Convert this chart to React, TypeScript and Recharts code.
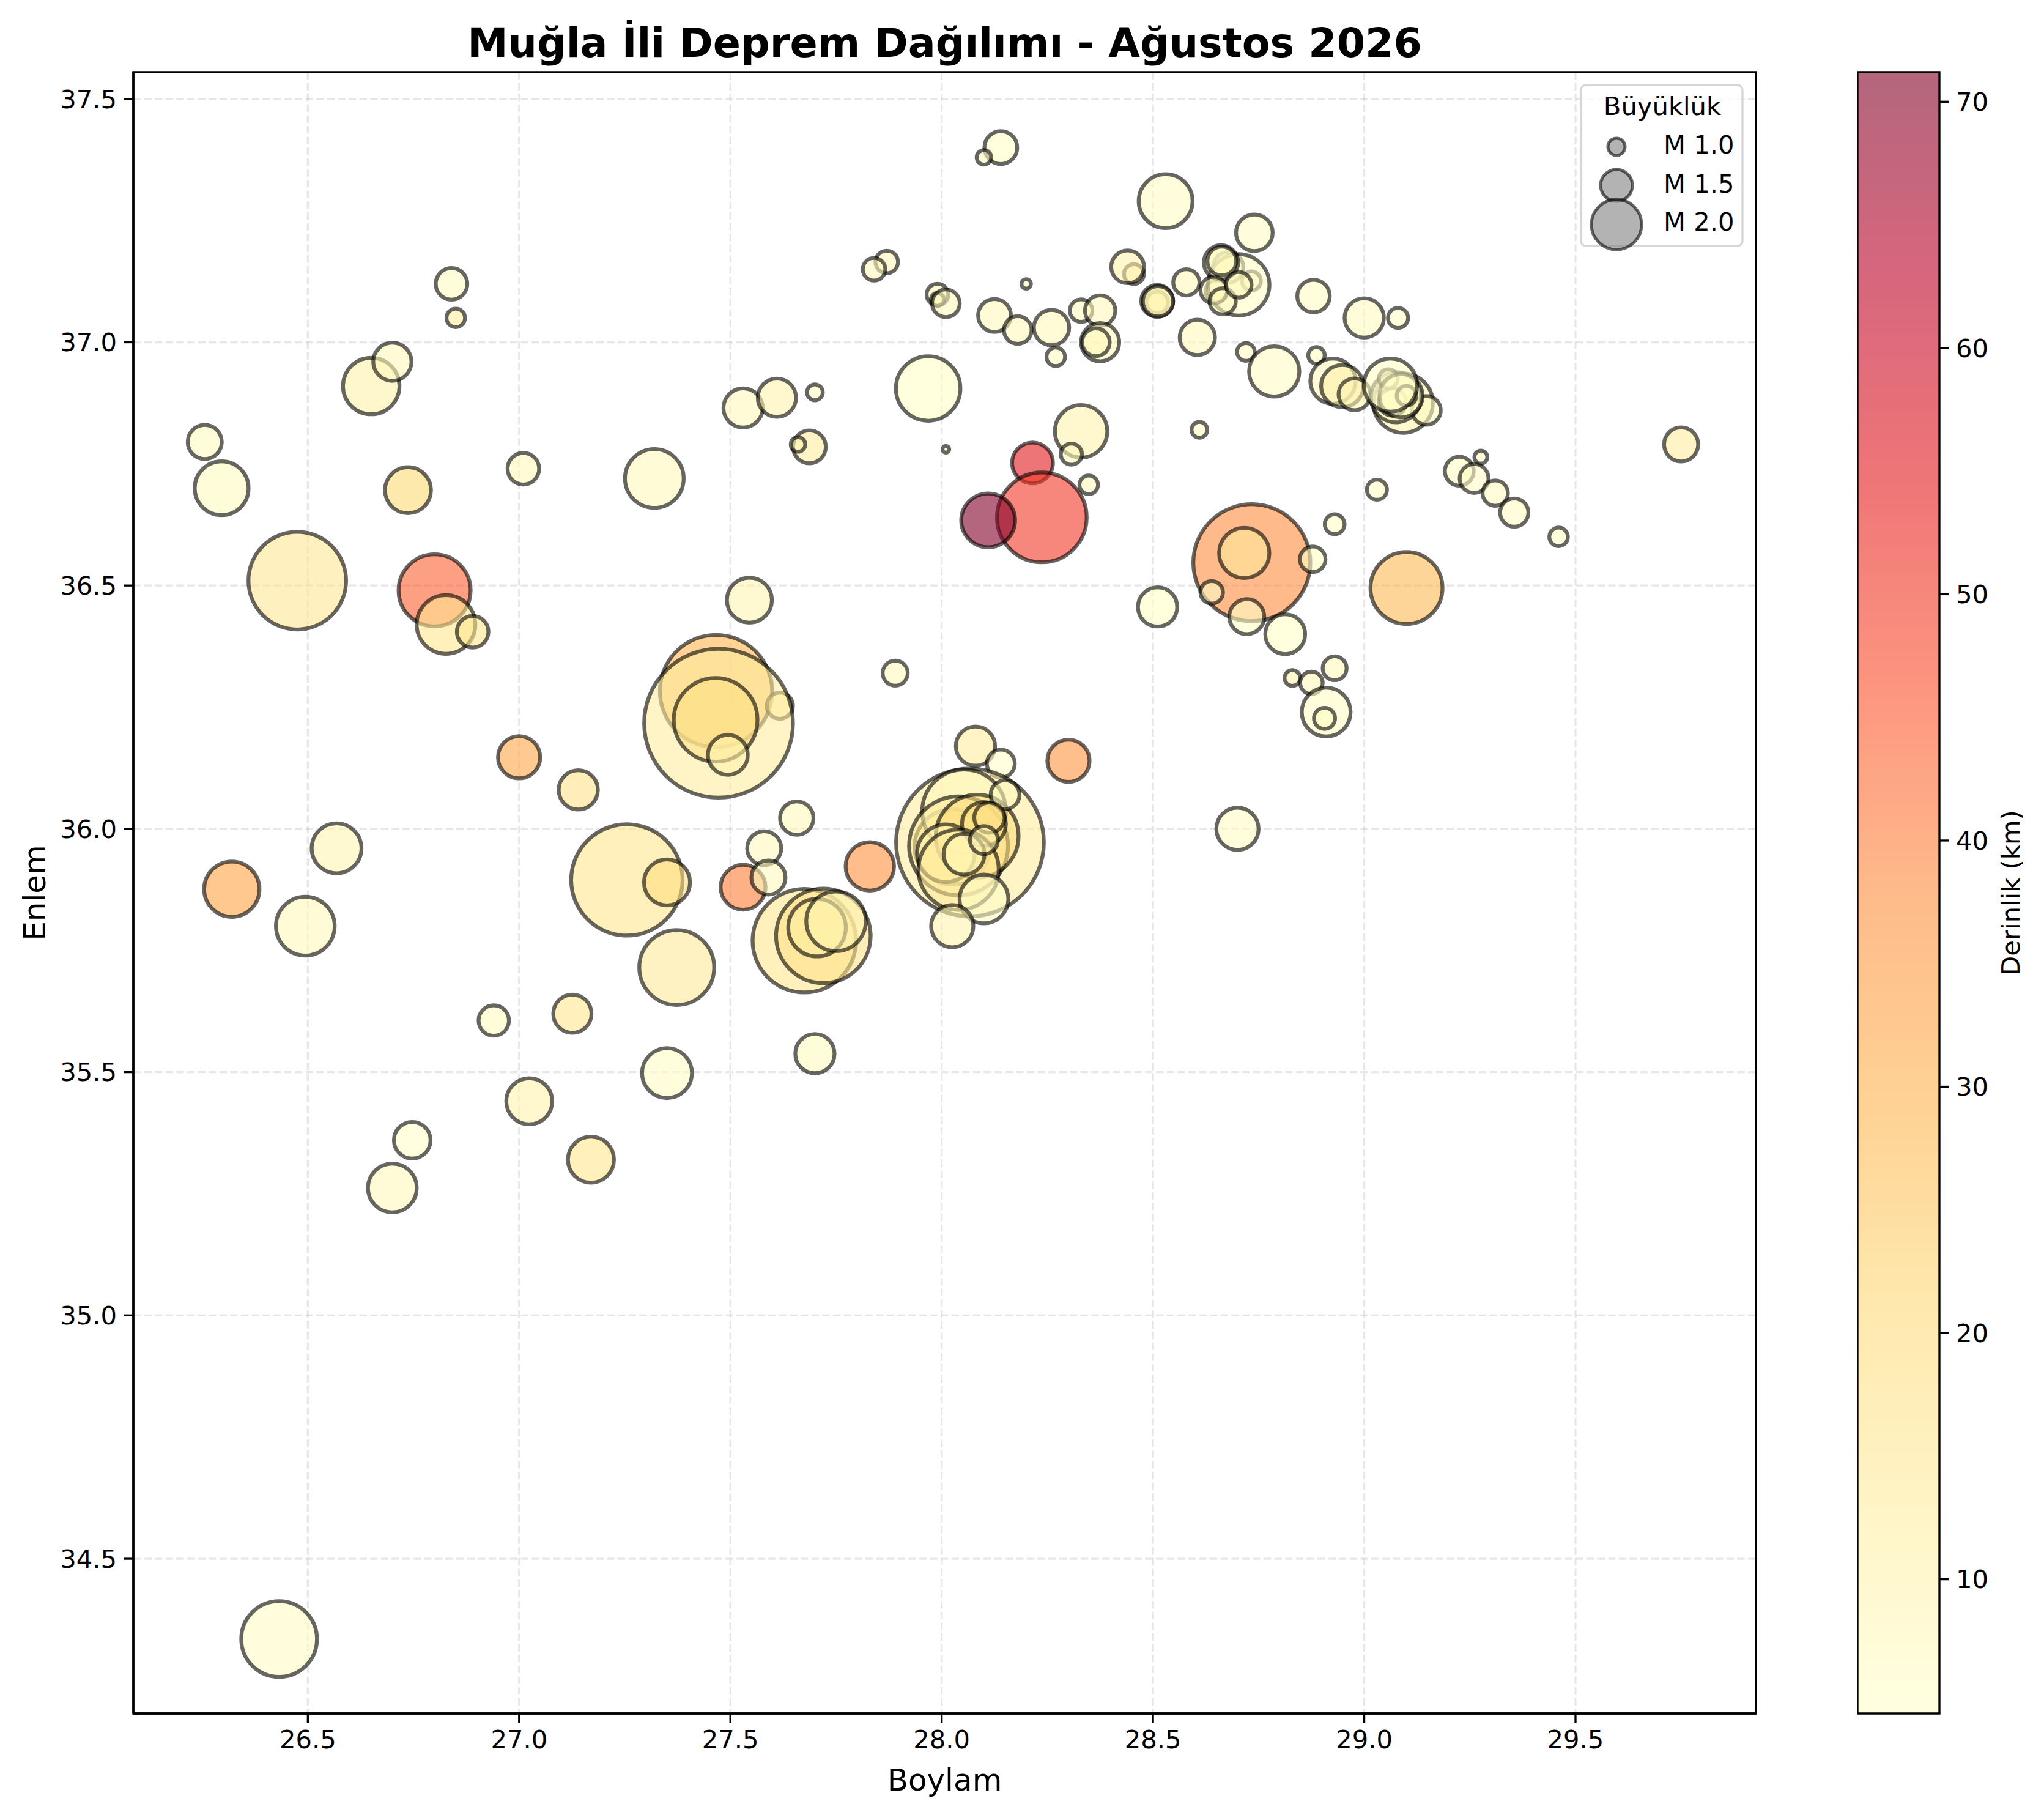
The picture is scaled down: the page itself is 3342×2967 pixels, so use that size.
import { ScatterChart, Scatter, XAxis, YAxis, ZAxis, CartesianGrid, ReferenceArea, ComposedChart } from 'recharts';

const longitudes = [
  28.14, 28.10, 28.53, 28.74, 27.87, 27.84, 28.455, 28.44, 28.20, 26.84, 26.85, 27.99, 27.99, 28.01, 28.125, 28.18,
  28.26, 28.33, 28.375, 28.27, 28.375, 28.365, 28.51, 28.51, 28.512, 28.579, 28.605, 28.733, 28.678, 28.65, 28.703, 28.661, 28.663, 28.644, 28.665, 28.703,
  28.88, 29.0, 29.08, 28.72, 28.787, 28.887, 28.926, 28.948, 28.977,
  29.092, 29.147, 29.075, 29.067, 29.057, 29.087, 29.10, 29.062,
  29.03, 29.225, 29.276, 29.26, 29.31, 29.355, 29.46, 29.75,
  28.93, 28.734, 28.716, 28.639, 28.722, 28.878, 28.813, 29.10, 28.511, 28.61,
  28.93, 28.83, 28.875, 28.91, 28.906, 28.70,
  28.30, 28.08, 28.14, 28.067, 28.025, 28.053, 28.04, 28.084, 28.01, 28.15, 28.10, 28.113, 28.04, 28.053, 28.10, 28.10, 28.025, 27.83, 27.657,
  27.675, 27.72, 27.705, 27.75,
  26.256, 26.296, 26.475, 26.65, 26.70, 26.737, 26.80, 26.827, 26.89, 27.01, 27.32, 27.53, 27.61, 27.70, 27.687, 27.66,
  27.968, 28.01, 28.33, 28.307, 28.348, 28.215, 28.237, 28.11,
  27.545, 27.89, 27.466, 27.617, 27.472, 27.465, 27.494, 27.0, 27.14,
  26.568, 26.32, 26.494, 27.255, 27.35, 27.373, 27.58, 27.53, 27.59,
  27.70, 26.94, 27.126, 27.024, 27.35, 26.747, 26.70, 27.17, 26.432,
];
const latitudes = [
  37.40, 37.38, 37.29, 37.225, 37.165, 37.15, 37.14, 37.155, 37.12, 37.12, 37.05, 37.098, 37.088, 37.08, 37.055, 37.025,
  37.03, 37.065, 37.065, 36.97, 37.0, 37.0, 37.082, 37.085, 37.084, 37.123, 37.01, 37.126, 37.154, 37.105, 37.118, 37.164, 37.167, 37.107, 37.084, 37.118,
  37.095, 37.05, 37.05, 36.98, 36.94, 36.973, 36.92, 36.91, 36.893,
  36.875, 36.86, 36.887, 36.877, 36.925, 36.89, 36.89, 36.912,
  36.697, 36.735, 36.764, 36.72, 36.69, 36.65, 36.60, 36.79,
  36.626, 36.547, 36.567, 36.486, 36.436, 36.554, 36.40, 36.495, 36.456, 36.82,
  36.33, 36.31, 36.30, 36.24, 36.227, 36.0,
  36.14, 36.17, 36.134, 35.972, 35.963, 36.036, 35.965, 35.985, 35.95, 36.07, 36.01, 36.023, 35.916, 35.948, 35.977, 35.856, 35.80, 35.923, 36.022,
  35.77, 35.78, 35.797, 35.81,
  36.795, 36.70, 36.51, 36.91, 36.96, 36.696, 36.49, 36.42, 36.405, 36.74, 36.72, 36.865, 36.886, 36.897, 36.785, 36.79,
  36.905, 36.78, 36.817, 36.77, 36.707, 36.752, 36.64, 36.634,
  36.47, 36.32, 36.283, 36.253, 36.217, 36.224, 36.152, 36.147, 36.08,
  35.96, 35.876, 35.80, 35.895, 35.89, 35.715, 35.96, 35.88, 35.90,
  35.538, 35.606, 35.62, 35.44, 35.498, 35.36, 35.262, 35.32, 34.335,
];
const magnitudes = [
  1.58, 0.92, 2.20, 1.70, 1.23, 1.23, 1.13, 1.58, 0.69, 1.54, 1.08, 1.2, 0.85, 1.41, 1.58, 1.41,
  1.66, 1.23, 1.50, 1.08, 1.75, 1.41, 1.2, 1.55, 1.5, 1.36, 1.66, 1.1, 1.5, 1.2, 2.40, 1.63, 1.45, 1.38, 1.36, 1.34,
  1.57, 1.78, 1.14, 1.05, 2.1, 1.0, 1.96, 1.87, 1.55,
  2.35, 1.45, 2.1, 1.4, 1.1, 1.9, 1.12, 2.18,
  1.14, 1.45, 0.85, 1.45, 1.33, 1.43, 1.08, 1.62,
  1.13, 3.69, 2.1, 1.23, 1.65, 1.34, 1.8, 2.67, 1.78, 0.97,
  1.28, 0.97, 1.23, 2.06, 1.18, 1.87,
  1.87, 1.78, 1.42, 4.31, 2.75, 2.95, 3.3, 2.93, 2.3, 1.45, 1.92, 1.5, 2.87, 1.83, 1.42, 2.06, 1.87, 2.05, 1.6,
  3.4, 3.2, 2.3, 2.35,
  1.62, 2.20, 3.27, 2.27, 1.75, 1.98, 2.67, 2.33, 1.54, 1.54, 2.33, 1.78, 1.75, 0.97, 1.58, 0.92,
  2.48, 0.55, 2.16, 1.18, 1.08, 1.83, 3.09, 2.20,
  1.95, 1.32, 3.59, 1.36, 4.33, 2.95, 1.8, 1.87, 1.78,
  2.09, 2.24, 2.33, 3.57, 1.98, 2.74, 1.62, 1.95, 1.62,
  1.78, 1.50, 1.75, 1.98, 2.09, 1.70, 2.06, 1.98, 2.76,
];
const depths = [
  5.5, 6, 6, 6, 8, 8, 10, 10, 6, 7, 13, 8, 8, 8, 8, 8,
  8, 7, 8, 7, 8, 8, 10, 8, 10, 8, 8, 10, 8, 8, 5.5, 7, 7, 8, 8, 8,
  6, 7, 5.5, 6, 6, 6, 8, 11, 10,
  10, 7, 7, 7, 7, 6, 7, 5.5,
  6, 6, 6, 6, 6, 6, 6, 13,
  6, 38, 14, 6, 5.5, 5.5, 5.5, 28, 5.5, 6,
  8, 10, 8, 6, 6, 6,
  36, 13, 5, 13, 20, 8, 13, 20, 10, 8, 18, 18, 14, 8, 10, 6, 10, 37, 8,
  16, 17, 13, 10,
  7, 7, 15, 11, 8, 21, 44, 16, 16, 8, 8, 8, 10, 6, 13, 9,
  5.5, 6, 10, 8, 8, 55, 50, 71,
  9, 8, 29, 12, 13, 18, 11, 32, 17,
  9, 33, 8, 16, 19, 14, 8, 40, 8,
  7, 7, 16, 10, 6, 5, 8, 16, 6,
];

const lonTicks = [26.5, 27.0, 27.5, 28.0, 28.5, 29.0, 29.5];
const latTicks = [34.5, 35.0, 35.5, 36.0, 36.5, 37.0, 37.5];
const depthTicks = [10, 20, 30, 40, 50, 60, 70];
const legendLabels = ['M 1.0', 'M 1.5', 'M 2.0'];

const lonDomain = [26.087, 29.927];
const latDomain = [34.182, 37.555];
const depthDomain = [4.55, 71.2];

// matplotlib YlOrRd
const ylOrRd = ['#ffffcc', '#ffeda0', '#fed976', '#feb24c', '#fd8d3c', '#fc4e2a', '#e31a1c', '#bd0026', '#800026'];

function depthColor(depth: number) {
  const t = Math.min(1, Math.max(0, (depth - depthDomain[0]) / (depthDomain[1] - depthDomain[0]))) * 8;
  const i = Math.min(7, Math.floor(t));
  const a = parseInt(ylOrRd[i].slice(1), 16);
  const b = parseInt(ylOrRd[i + 1].slice(1), 16);
  const mix = (shift: number) => {
    const ca = (a >> shift) & 255;
    const cb = (b >> shift) & 255;
    return Math.round(ca + (cb - ca) * (t - i));
  };
  return `rgb(${mix(16)},${mix(8)},${mix(0)})`;
}

const points = longitudes.map((lon, i) => ({
  lon,
  lat: latitudes[i],
  size: magnitudes[i] ** 3,
  depth: depths[i],
}));

const FONT = '"DejaVu Sans"';
const tickStyle = { fontSize: 41.67, fill: '#000', fontFamily: FONT };
const axisLine = { stroke: '#000', strokeWidth: 3.33 };

function Bubble({ cx, cy, width, payload }: any) {
  return (
    <circle
      cx={cx}
      cy={cy}
      r={width / 2}
      fill={depthColor(payload.depth)}
      fillOpacity={0.6}
      stroke="#000"
      strokeOpacity={0.6}
      strokeWidth={6.25}
    />
  );
}

function SizeLegend() {
  const handleY = [240, 303, 367];
  const baselines = [251, 315, 377];
  const diameters = [28, 52, 82];
  return (
    <svg width={3342} height={2967} style={{ position: 'absolute', left: 0, top: 0, pointerEvents: 'none' }}>
      <rect x={2585} y={139} width={264} height={263} rx={8} fill="#fff" fillOpacity={0.8} stroke="#d6d6d6" strokeWidth={3.33} />
      <text x={2718} y={188} textAnchor="middle" fontFamily={FONT} fontSize={41.67} fill="#000">Büyüklük</text>
      {legendLabels.map((label, i) => (
        <g key={label}>
          <circle cx={2643} cy={handleY[i]} r={diameters[i] / 2} fill="#808080" fillOpacity={0.6} stroke="#000" strokeOpacity={0.6} strokeWidth={5} />
          <text x={2720} y={baselines[i]} fontFamily={FONT} fontSize={41.67} fill="#000">{label}</text>
        </g>
      ))}
    </svg>
  );
}

export default function App() {
  return (
    <div style={{ position: 'absolute', left: 0, top: 0, width: 3342, height: 2967, background: '#fff', overflow: 'hidden' }}>
      <div style={{ position: 'absolute', left: 0, width: 3089, top: 30, textAlign: 'center', fontFamily: FONT, fontWeight: 'bold', fontSize: 66.67, lineHeight: '80px', color: '#000' }}>
        Muğla İli Deprem Dağılımı - Ağustos 2026
      </div>
      <div style={{ position: 'absolute', left: 0, top: 0 }}>
        <ScatterChart width={3342} height={2967} margin={{ top: 118, right: 471, bottom: 16, left: 68 }}>
          <XAxis
            type="number"
            dataKey="lon"
            domain={lonDomain}
            ticks={lonTicks}
            tickFormatter={(v: number) => v.toFixed(1)}
            tick={tickStyle}
            tickSize={15}
            tickMargin={12}
            axisLine={axisLine}
            tickLine={axisLine}
            height={150}
            allowDataOverflow
            label={{ value: 'Boylam', position: 'insideBottom', offset: 24, fontSize: 50, fill: '#000', fontFamily: FONT }}
          />
          <YAxis
            type="number"
            dataKey="lat"
            domain={latDomain}
            ticks={latTicks}
            tickFormatter={(v: number) => v.toFixed(1)}
            tick={tickStyle}
            tickSize={15}
            tickMargin={12}
            axisLine={axisLine}
            tickLine={axisLine}
            width={150}
            allowDataOverflow
            label={{ value: 'Enlem', angle: -90, position: 'insideLeft', offset: 0, dx: -12, fontSize: 50, fill: '#000', fontFamily: FONT, style: { textAnchor: 'middle' } }}
          />
          <ZAxis type="number" dataKey="size" domain={[0, 100]} range={[0, 57260]} />
          <Scatter data={points} shape={Bubble} isAnimationActive={false} />
          <CartesianGrid
            stroke="#b0b0b0"
            strokeOpacity={0.3}
            strokeWidth={3.33}
            strokeDasharray="12.3 5.3"
            horizontalValues={latTicks}
            verticalValues={lonTicks}
          />
          <ReferenceArea x1={lonDomain[0]} x2={lonDomain[1]} y1={latDomain[0]} y2={latDomain[1]} fill="none" stroke="#000" strokeWidth={3.33} />
        </ScatterChart>
      </div>
      <SizeLegend />
      <div style={{ position: 'absolute', left: 3037, top: 0 }}>
        <ComposedChart width={305} height={2967} margin={{ top: 118, right: 0, bottom: 166, left: 0 }} data={[{ x: 0, y: depthDomain[0] }]}>
          <defs>
            <linearGradient id="depthGrad" x1="0" y1="1" x2="0" y2="0">
              {ylOrRd.map((c, i) => (
                <stop key={c} offset={`${(i / 8) * 100}%`} stopColor={c} stopOpacity={0.6} />
              ))}
            </linearGradient>
          </defs>
          <XAxis type="number" dataKey="x" domain={[0, 1]} hide height={0} />
          <YAxis
            orientation="right"
            type="number"
            dataKey="y"
            domain={depthDomain}
            ticks={depthTicks}
            tick={tickStyle}
            tickSize={15}
            tickMargin={12}
            axisLine={false}
            tickLine={axisLine}
            width={171}
            allowDataOverflow
            label={{ value: 'Derinlik (km)', angle: -90, position: 'insideRight', dx: -50, fontSize: 41.67, fill: '#000', fontFamily: FONT, style: { textAnchor: 'middle' } }}
          />
          <ReferenceArea x1={0} x2={1} y1={depthDomain[0]} y2={depthDomain[1]} fill="url(#depthGrad)" fillOpacity={1} stroke="#000" strokeWidth={3.33} />
        </ComposedChart>
      </div>
    </div>
  );
}
